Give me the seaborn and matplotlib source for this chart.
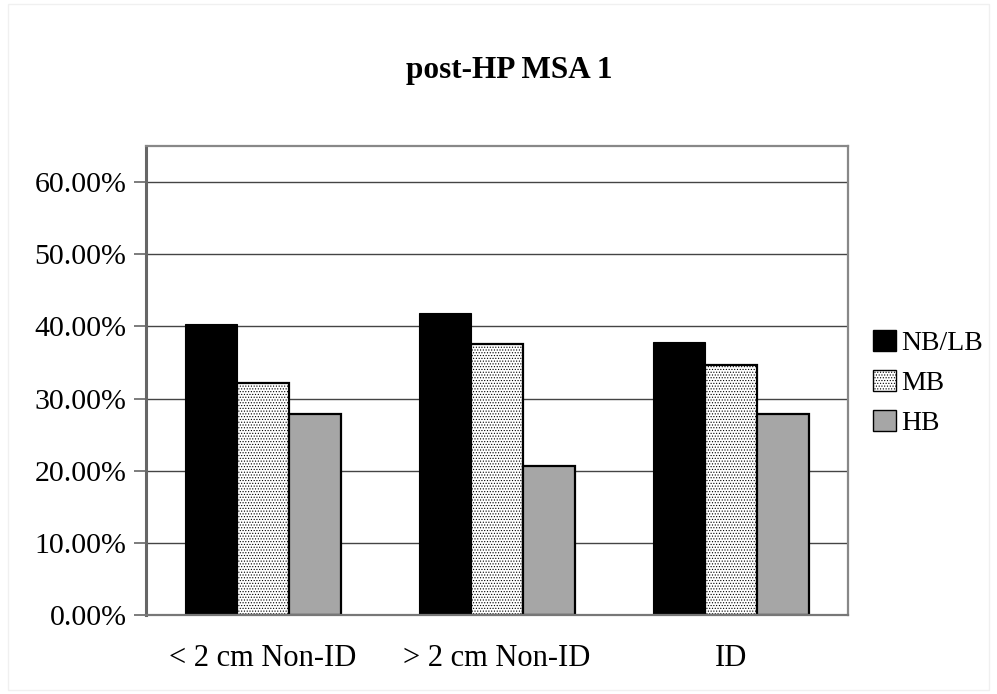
import matplotlib
matplotlib.use("Agg")
import matplotlib.pyplot as plt
from matplotlib.patches import Patch, Rectangle
from matplotlib.ticker import PercentFormatter, FixedLocator
import seaborn as sns
import pandas as pd

# Chart data
categories = ["< 2 cm Non-ID", "> 2 cm Non-ID", "ID"]
series = ["NB/LB", "MB", "HB"]
nb_lb = [40.3, 41.9, 37.8]
mb = [32.2, 37.6, 34.7]
hb = [27.8, 20.7, 27.9]
y_ticks = [0, 10, 20, 30, 40, 50, 60]

df = pd.DataFrame({
    "category": categories * 3,
    "series": [s for s in series for _ in categories],
    "value": nb_lb + mb + hb,
})

sns.set_theme(style="white")
plt.rcParams["font.family"] = ["Liberation Serif", "DejaVu Serif"]
plt.rcParams["text.color"] = "black"
plt.rcParams["hatch.linewidth"] = 0.5
plt.rcParams["hatch.color"] = "#555555"

colors = {"NB/LB": "#000000", "MB": "#ffffff", "HB": "#a6a6a6"}

fig = plt.figure(figsize=(9.97, 6.94), dpi=100)
fig.patch.set_facecolor("white")
fig.add_artist(Rectangle((0.008, 0.006), 0.984, 0.988, transform=fig.transFigure,
                         fill=False, edgecolor="#f0f0f0", linewidth=1))
ax = fig.add_axes([0.1464, 0.1138, 0.7042, 0.6758])

sns.barplot(data=df, x="category", y="value", hue="series", order=categories,
            hue_order=series, palette=colors, width=0.67, gap=0,
            edgecolor="black", linewidth=1.6, saturation=1, legend=False, ax=ax)

# fine dotted texture on the MB bars
n = len(categories)
for i, patch in enumerate(ax.patches[:3 * n]):
    s = series[i // n]
    if s == "MB":
        patch.set_hatch("......")
        patch.set_edgecolor("black")
    if s == "NB/LB":
        patch.set_linewidth(0.8)

ax.set_xlim(-0.5, 2.5)
ax.set_ylim(0, 65)
ax.yaxis.set_major_locator(FixedLocator(y_ticks))
ax.yaxis.set_major_formatter(PercentFormatter(decimals=2))
ax.grid(axis="y", color="#444444", linewidth=1.0)
ax.set_axisbelow(True)

ax.set_xlabel("")
ax.set_ylabel("")
ax.tick_params(axis="x", which="major", length=0, pad=21, labelsize=22)
ax.xaxis.set_minor_locator(FixedLocator([-0.5, 0.5, 1.5, 2.5]))
ax.tick_params(axis="x", which="minor", length=9, width=1.2, color="#666666", direction="out")
ax.tick_params(axis="y", length=9, width=1.2, color="#666666", direction="out",
               labelsize=21.5, pad=5, left=True)
for lab in ax.get_yticklabels() + ax.get_xticklabels():
    lab.set_color("black")

for side, spine in ax.spines.items():
    spine.set_visible(True)
    spine.set_color("#888888")
    spine.set_linewidth(1.6)
ax.spines["left"].set_color("#666666")
ax.spines["left"].set_linewidth(2.2)
ax.spines["bottom"].set_color("#777777")

fig.text(0.511, 0.899, "post-HP MSA 1", ha="center", va="center",
         fontsize=22.5, fontweight="bold", color="black")

handles = [Patch(facecolor=colors[s], edgecolor="black", linewidth=1.0,
                 hatch="......" if s == "MB" else None, label=s) for s in series]
leg = fig.legend(handles=handles, loc="center left", bbox_to_anchor=(0.876, 0.448),
                 frameon=False, fontsize=20, handlelength=0.8, handleheight=0.8,
                 handletextpad=0.2, labelspacing=0.5, borderaxespad=0, borderpad=0)
for t in leg.get_texts():
    t.set_color("black")

fig.savefig("out.png", dpi=100, facecolor="white")
